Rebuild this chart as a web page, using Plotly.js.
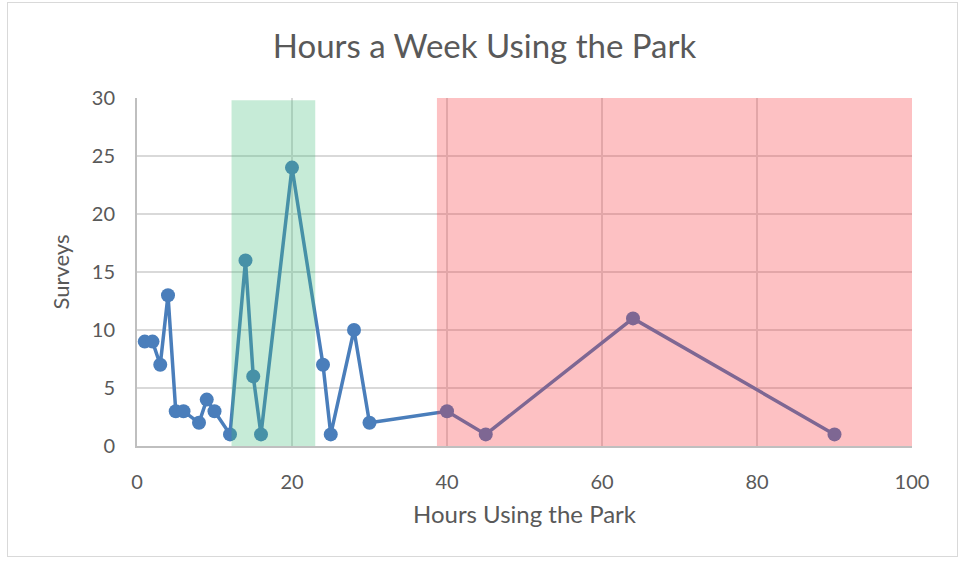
<!DOCTYPE html>
<html>
<head>
<meta charset="utf-8">
<script src="https://cdn.plot.ly/plotly-3.0.1.min.js"></script>
<style>
html,body{margin:0;padding:0;background:#fff;}
#wrap{position:relative;width:969px;height:561px;}
#chart{width:969px;height:561px;}
#frame{position:absolute;left:7px;top:2px;width:949px;height:553px;border:1px solid #d9d9d9;pointer-events:none;}
</style>
</head>
<body>
<div id="wrap"><div id="chart"></div><div id="frame"></div></div>
<script>
// Data
const hours   = [1, 2, 3, 4, 5, 6, 8, 9, 10, 12, 14, 15, 16, 20, 24, 25, 28, 30, 40, 45, 64, 90];
const surveys = [9, 9, 7, 13, 3, 3, 2, 4, 3, 1, 16, 6, 1, 24, 7, 1, 10, 2, 3, 1, 11, 1];
const xTicks = [0, 20, 40, 60, 80, 100];
const yTicks = [0, 5, 10, 15, 20, 25, 30];
const greenBand = [12.2, 23];
const redBand = [38.7, 100];

const font = "Lato, 'Open Sans', sans-serif";
const grey = '#595959';

const trace = {
  x: hours, y: surveys, type: 'scatter', mode: 'lines+markers',
  line: {color: '#4a7ebb', width: 3.5},
  marker: {color: '#4a7ebb', size: 14},
  showlegend: false, hoverinfo: 'x+y'
};

const layout = {
  width: 969, height: 561,
  margin: {l: 137, r: 57, t: 98, b: 115},
  paper_bgcolor: '#fff', plot_bgcolor: '#fff',
  title: {text: 'Hours a Week Using the Park', font: {family: font, size: 33, color: grey}, x: 0.5, xanchor: 'center', y: 0.918, yanchor: 'middle'},
  xaxis: {
    range: [0, 100], tickvals: xTicks, ticktext: xTicks.map(String),
    showgrid: true, gridcolor: '#d9d9d9', gridwidth: 2,
    showline: true, linecolor: '#bfbfbf', linewidth: 2,
    zeroline: false, ticks: '', ticklabelstandoff: 17,
    tickfont: {family: font, size: 20, color: grey},
    title: {text: 'Hours Using the Park', font: {family: font, size: 24, color: grey}, standoff: 14}
  },
  yaxis: {
    range: [0, 30], tickvals: yTicks, ticktext: yTicks.map(String),
    showgrid: true, gridcolor: '#d9d9d9', gridwidth: 2,
    showline: true, linecolor: '#bfbfbf', linewidth: 2,
    zeroline: false, ticks: '', ticklabelstandoff: 16,
    tickfont: {family: font, size: 20, color: grey},
    title: {text: 'Surveys', font: {family: font, size: 22, color: grey}, standoff: 16}
  },
  shapes: [
    {type: 'rect', xref: 'x', yref: 'y', x0: greenBand[0], x1: greenBand[1], y0: -0.3, y1: 29.8,
     fillcolor: 'rgba(65,188,122,0.3)', line: {width: 0}, layer: 'above'},
    {type: 'rect', xref: 'x', yref: 'y', x0: redBand[0], x1: redBand[1], y0: 0, y1: 30.2,
     fillcolor: 'rgba(250,50,55,0.3)', line: {width: 0}, layer: 'above'}
  ]
};

Plotly.newPlot('chart', [trace], layout, {displayModeBar: false, staticPlot: true});
</script>
</body>
</html>
